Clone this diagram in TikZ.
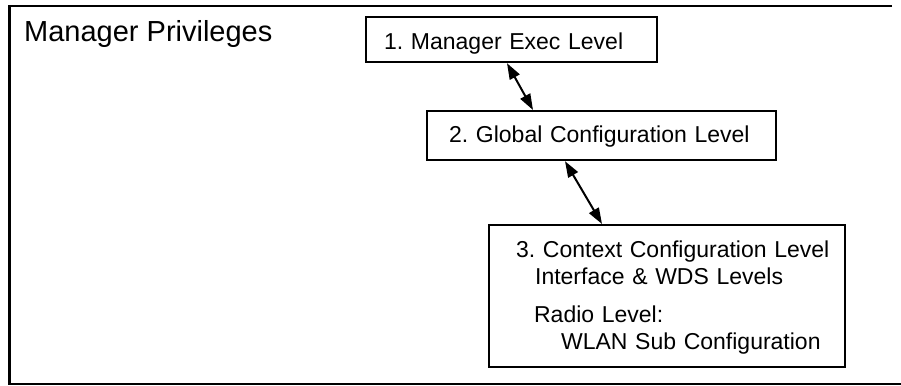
\documentclass[tikz,border=0pt]{standalone}
\usepackage{fontspec}
\setmainfont{Liberation Sans}
\usetikzlibrary{arrows.meta,calc}
\frenchspacing
\begin{document}
\begin{tikzpicture}[x=1pt,y=-1pt,
  lvlbox/.style={draw, line width=2.2pt, rectangle, align=left, inner ysep=0pt,
    font=\fontsize{23}{27}\selectfont},
  biarrow/.style={line width=2pt, {Triangle[length=16pt,width=11pt]}-{Triangle[length=16pt,width=11pt]}}]
\useasboundingbox (0,0) rectangle (901,385);
% open frame
\draw[line width=2.5pt] (892,6.25) -- (9.25,6.25) -- (9.25,383.75) -- (901,383.75);
\node[anchor=base west, inner sep=0pt, font=\fontsize{29}{34}\selectfont] (title) at (24,41.5) {Manager Privileges};
% level boxes
\node[lvlbox, anchor=north west, inner xsep=18pt, text width=255pt, text height=32pt, text depth=13pt]
  (exec) at (365,16) {1. Manager Exec Level};
\node[lvlbox, anchor=north west, inner xsep=22pt, text width=305pt, text height=31pt, text depth=18pt]
  (glob) at (426,110) {2. Global Configuration Level};
\node[lvlbox, anchor=north west, inner xsep=10pt, inner ysep=15pt, text width=336pt, text height=17pt, text depth=95pt]
  (ctx) at (488,224) {\hspace*{17pt}3. Context Configuration Level\\
  \hspace*{36pt}Interface \& WDS Levels\\[11pt]
  \hspace*{35pt}Radio Level:\\
  \hspace*{62pt}WLAN Sub Configuration};
% connectors
\draw[biarrow] ($(exec.south west)+(142,0)$) -- ($(glob.north west)+(107,0)$);
\draw[biarrow] ($(glob.south west)+(139,0)$) -- ($(ctx.north west)+(114,0)$);
\end{tikzpicture}
\end{document}
